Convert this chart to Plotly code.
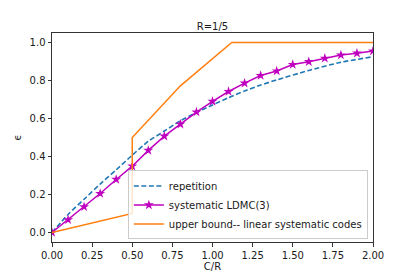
import plotly.graph_objects as go

# Data
rep_x = [0, 0.1, 0.2, 0.3, 0.4, 0.5, 0.6, 0.7, 0.8, 0.9, 1.0, 1.1, 1.2, 1.3, 1.4, 1.6, 1.8, 2.0]
rep_y = [0, 0.095, 0.175, 0.255, 0.33, 0.407, 0.48, 0.534, 0.588, 0.632, 0.671, 0.71, 0.745, 0.776, 0.803, 0.853, 0.896, 0.925]

ldmc_x = [0, 0.1, 0.2, 0.3, 0.4, 0.5, 0.6, 0.7, 0.8, 0.9, 1.0,
          1.1, 1.2, 1.3, 1.4, 1.5, 1.6, 1.7, 1.8, 1.9, 2.0]
ldmc_y = [0, 0.067, 0.135, 0.205, 0.279, 0.349, 0.432, 0.507, 0.570, 0.634, 0.690,
          0.742, 0.786, 0.826, 0.850, 0.884, 0.899, 0.917, 0.934, 0.944, 0.955]

ub_x = [0, 0.5, 0.5, 0.8, 1.12, 2.0]
ub_y = [0, 0.1, 0.5, 0.772, 1.0, 1.0]

x_ticks = [0, 0.25, 0.5, 0.75, 1.0, 1.25, 1.5, 1.75, 2.0]
y_ticks = [0, 0.2, 0.4, 0.6, 0.8, 1.0]

font_family = "DejaVu Sans"
txt = "#1a1a1a"

fig = go.Figure()
fig.add_trace(go.Scatter(x=rep_x, y=rep_y, mode="lines", name="repetition",
                         line=dict(color="#1f77b4", width=1.6, dash="5px,2.5px", shape="spline", smoothing=0.6)))
fig.add_trace(go.Scatter(x=ldmc_x, y=ldmc_y, mode="lines+markers", name="systematic LDMC(3)",
                         line=dict(color="#bf00bf", width=1.5),
                         marker=dict(symbol="star", size=7.5, color="#bf00bf")))
fig.add_trace(go.Scatter(x=ub_x, y=ub_y, mode="lines", name="upper bound-- linear systematic codes",
                         line=dict(color="#ff7f0e", width=1.5)))

axis_common = dict(showgrid=False, zeroline=False, showline=True, linecolor="#333333",
                   linewidth=1, mirror=True, ticks="outside", ticklen=3.5, tickwidth=0.8,
                   tickcolor="#333333", automargin=False,
                   tickfont=dict(family=font_family, size=10, color=txt))

fig.update_xaxes(range=[0, 2.0], tickvals=x_ticks, tickformat=".2f",
                 title=dict(text="C/R", font=dict(family=font_family, size=10, color=txt), standoff=3),
                 **axis_common)
fig.update_yaxes(range=[-0.05, 1.05], tickvals=y_ticks, tickformat=".1f",
                 title=dict(text="ϵ", font=dict(family=font_family, size=10, color=txt), standoff=6),
                 **axis_common)

fig.update_layout(
    width=415, height=277,
    margin=dict(l=52, r=42, t=33, b=35, autoexpand=False),
    plot_bgcolor="white", paper_bgcolor="white",
    title=dict(text="R=1/5", x=0.512, xanchor="center", y=0.903, yanchor="middle",
               font=dict(family=font_family, size=10, color=txt)),
    legend=dict(x=0.984, y=0.012, xanchor="right", yanchor="bottom",
                bgcolor="rgba(255,255,255,0.8)", bordercolor="#cccccc", borderwidth=1,
                font=dict(family=font_family, size=10, color=txt),
                itemwidth=30, tracegroupgap=0),
    showlegend=True,
)

fig.write_html("out.html", config={"displayModeBar": False},
               post_script="document.body.style.margin='0';document.body.style.overflow='hidden';")
